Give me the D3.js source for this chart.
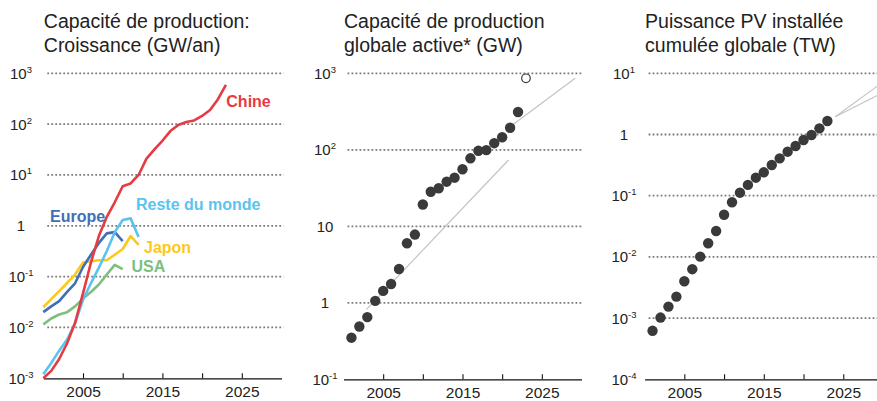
<!DOCTYPE html>
<html><head><meta charset="utf-8">
<script src="https://cdn.jsdelivr.net/npm/d3@7/dist/d3.min.js"></script>
<style>
body{margin:0;background:#fff;}
svg{display:block;font-family:"Liberation Sans",Arial,sans-serif;}
</style></head>
<body>
<svg id="c" width="877" height="401"></svg>
<script>
// ---- Data ----
const years = [2000,2001,2002,2003,2004,2005,2006,2007,2008,2009,2010,2011,2012,2013,2014,2015,2016,2017,2018,2019,2020,2021,2022,2023];
const chine = [0.001,0.0014,0.0024,0.0049,0.0123,0.047,0.19,0.63,1.5,2.9,6.0,6.8,10,21,32,47,73,96,110,118,145,190,310,590];
const europe = [0.02,0.026,0.033,0.05,0.074,0.155,0.27,0.46,0.71,0.75,0.5];
const resteMonde = [0.0012,0.002,0.0035,0.0058,0.012,0.035,0.074,0.15,0.32,0.75,1.3,1.4,0.6];
const japon = [0.025,0.036,0.052,0.075,0.11,0.19,0.2,0.21,0.21,0.27,0.35,0.63,0.42];
const usa = [0.0115,0.015,0.018,0.02,0.026,0.037,0.05,0.07,0.11,0.17,0.14];

const capYears = [2001,2002,2003,2004,2005,2006,2007,2008,2009,2010,2011,2012,2013,2014,2015,2016,2017,2018,2019,2020,2021,2022];
const capacite = [0.35,0.49,0.65,1.06,1.43,1.76,2.77,6.0,7.8,19.3,28.3,31.4,38.3,43.2,55.6,77.4,97,99,122,146,194,312];
const capProjYear = [2023];
const capProj = [860];
const capTrendLow = [[2002.9,0.82],[2020.8,73.6]];
const capTrendHigh = [[2021,200],[2029.2,860]];

const pvYears = [2001,2002,2003,2004,2005,2006,2007,2008,2009,2010,2011,2012,2013,2014,2015,2016,2017,2018,2019,2020,2021,2022,2023];
const pvCumul = [0.00062,0.00102,0.00154,0.00224,0.0040,0.0063,0.0101,0.0167,0.0265,0.0488,0.0783,0.112,0.150,0.197,0.241,0.318,0.408,0.524,0.649,0.813,0.98,1.26,1.66];
const pvTrendA = [[2024,1.95],[2029.8,6.9]];
const pvTrendB = [[2024,1.95],[2029.8,4.7]];

const titles = [
  ["Capacité de production:","Croissance (GW/an)"],
  ["Capacité de production","globale active* (GW)"],
  ["Puissance PV installée","cumulée globale (TW)"]
];
const xTicks = [2005,2010,2015,2020,2025];
const xLabels = [2005,2015,2025];
const yTicksL = [-3,-2,-1,0,1,2,3];
const yTicksM = [-1,0,1,2,3];
const yTicksR = [-4,-3,-2,-1,0,1];

// ---- Drawing ----
const svg = d3.select("#c");
const panels = [
  {x0:43.3,x1:281.5,top:73.3,bot:378.3,exp:[-3,3],ticks:yTicksL,lab:21,plainTen:false},
  {x0:343.5,x1:581.5,top:73.3,bot:379.3,exp:[-1,3],ticks:yTicksM,lab:325,plainTen:true},
  {x0:644.6,x1:883,top:73.3,bot:379.3,exp:[-4,1],ticks:yTicksR,lab:624,plainTen:false}
];
panels.forEach((p,i)=>{
  p.x = d3.scaleLinear().domain([2000,2030]).range([p.x0,p.x1]);
  p.y = d3.scaleLog().domain([Math.pow(10,p.exp[0]),Math.pow(10,p.exp[1])]).range([p.bot,p.top]);
  const g = svg.append("g");
  p.g = g;
  // title
  const t = g.append("text").attr("x",p.x0+0.5).attr("y",28.3).attr("font-size",19.5).attr("fill","#222");
  t.append("tspan").attr("x",p.x0+0.5).text(titles[i][0]);
  t.append("tspan").attr("x",p.x0+0.5).attr("y",52).text(titles[i][1]);
  // gridlines (excluding bottom)
  g.selectAll("line.grid").data(p.ticks.filter(e=>e>p.exp[0])).join("line")
    .attr("x1",p.x0+4).attr("x2",Math.min(p.x1+2,877))
    .attr("y1",e=>p.y(Math.pow(10,e))).attr("y2",e=>p.y(Math.pow(10,e)))
    .attr("stroke","#7a7a7a").attr("stroke-width",1.8).attr("stroke-dasharray","1.8,2.2");
  // y labels
  const lab = g.selectAll("text.yl").data(p.ticks).join("text")
    .attr("x",p.lab).attr("y",e=>p.y(Math.pow(10,e))).attr("dy","0.36em")
    .attr("text-anchor","middle").attr("font-size",15).attr("fill","#222");
  lab.each(function(e){
    const s = d3.select(this);
    if(e===0){ s.text("1"); }
    else if(e===1 && p.plainTen){ s.text("10"); }
    else {
      s.append("tspan").text("10");
      s.append("tspan").attr("font-size",9.5).attr("dy","-0.62em").text(e>0 ? String(e) : "-" + Math.abs(e));
    }
  });
  // x axis
  const ax = d3.axisBottom(p.x).tickValues(xTicks).tickSizeInner(-5).tickSizeOuter(0).tickPadding(8)
    .tickFormat(d=>xLabels.includes(d)?d:"");
  const axg = g.append("g").attr("transform",`translate(0,${p.bot})`).call(ax);
  axg.select(".domain").attr("stroke","#111").attr("stroke-width",1.3);
  axg.selectAll(".tick line").attr("stroke","#111").attr("stroke-width",1.1);
  axg.selectAll(".tick text").attr("font-size",15.5).attr("fill","#222").attr("font-family","Liberation Sans, Arial, sans-serif");
});

// Panel 1 lines
const P1 = panels[0];
const line1 = d3.line().x(d=>P1.x(d[0])).y(d=>P1.y(d[1]));
const series = [
  {v:usa,c:"#7cbf7e"},{v:japon,c:"#fdc919"},{v:europe,c:"#3f6fb6"},{v:resteMonde,c:"#5cc3ef"},{v:chine,c:"#e63b42"}
];
series.forEach(s=>{
  P1.g.append("path").datum(s.v.map((v,i)=>[years[i],v]))
    .attr("d",line1).attr("fill","none").attr("stroke",s.c).attr("stroke-width",2.6).attr("stroke-linejoin","round");
});
const labels1 = [
  {t:"Chine",yr:2023,v:590,dx:0.4,y:106.7,c:"#e63b42"},
  {t:"Europe",x:50,y:221.5,c:"#3f6fb6"},
  {t:"Reste du monde",x:136,y:210,c:"#5cc3ef"},
  {t:"Japon",x:144,y:253,c:"#fdc919"},
  {t:"USA",x:131.5,y:272,c:"#7cbf7e"}
];
P1.g.selectAll("text.sl").data(labels1).join("text")
  .attr("x",d=>d.x!==undefined?d.x:P1.x(d.yr)+d.dx).attr("y",d=>d.y)
  .attr("font-size",16).attr("font-weight","bold").attr("fill",d=>d.c).text(d=>d.t);

// Panel 2
const P2 = panels[1];
const l2 = d3.line().x(d=>P2.x(d[0])).y(d=>P2.y(d[1]));
[capTrendLow,capTrendHigh].forEach(t=>{
  P2.g.append("path").datum(t).attr("d",l2).attr("fill","none").attr("stroke","#c4c4c4").attr("stroke-width",1.2);
});
P2.g.selectAll("circle.d").data(capYears.map((y,i)=>[y,capacite[i]])).join("circle")
  .attr("cx",d=>P2.x(d[0])).attr("cy",d=>P2.y(d[1])).attr("r",5.2).attr("fill","#3a3a3a");
P2.g.selectAll("circle.p").data(capProjYear.map((y,i)=>[y,capProj[i]])).join("circle")
  .attr("cx",d=>P2.x(d[0])).attr("cy",d=>P2.y(d[1])).attr("r",4.3).attr("fill","#fff").attr("stroke","#3a3a3a").attr("stroke-width",1.2);

// Panel 3
const P3 = panels[2];
const l3 = d3.line().x(d=>P3.x(d[0])).y(d=>P3.y(d[1]));
[pvTrendA,pvTrendB].forEach(t=>{
  P3.g.append("path").datum(t).attr("d",l3).attr("fill","none").attr("stroke","#c4c4c4").attr("stroke-width",1.2);
});
P3.g.selectAll("circle.d").data(pvYears.map((y,i)=>[y,pvCumul[i]])).join("circle")
  .attr("cx",d=>P3.x(d[0])).attr("cy",d=>P3.y(d[1])).attr("r",5.2).attr("fill","#3a3a3a");
</script>
</body></html>
